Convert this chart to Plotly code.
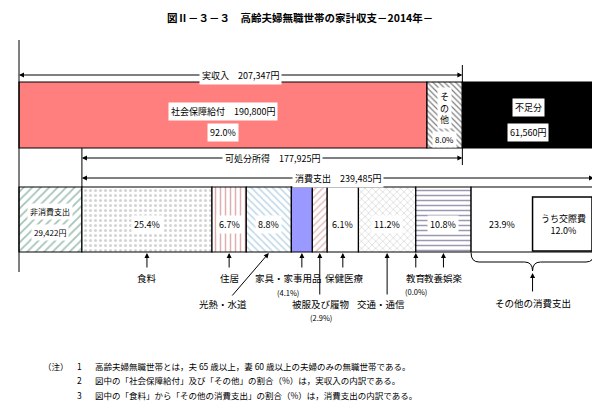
import plotly.graph_objects as go

# ---- data ----
income_labels = ["社会保障給付", "その他", "不足分"]
income_values = [190800, 16547, 61560]
income_total = 207347
disposable = 177925
nonconsumption = 29422
consumption_total = 239485
cons_labels = ["食料", "住居", "光熱・水道", "家具・家事用品", "被服及び履物", "保健医療",
               "交通・通信", "教育", "教養娯楽", "その他の消費支出"]
cons_pct = [25.4, 6.7, 8.8, 4.1, 2.9, 6.1, 11.2, 0.0, 10.8, 23.9]
kousai_pct = 12.0

FONT = "Noto Sans CJK JP"
W, H = 600, 410
OFF = 8  # page body margin
X0, X1 = 19, 594
TOT = income_values[0] + income_values[1] + income_values[2]
K = (X1 - X0) / TOT  # px per yen
def px(p):  # screen pixel -> data x
    return (p - X0) / K

fig = go.Figure()

def hbar(start, val, y0, y1, color="white", shape="", fg="black", size=6, name=""):
    fig.add_trace(go.Bar(orientation="h", base=[start], x=[val], y=[(y0 + y1) / 2], width=[y1 - y0],
                         marker=dict(color=color, line=dict(color="black", width=1.2),
                                     pattern=dict(shape=shape, fgcolor=fg, bgcolor=color, size=size, solidity=0.3)),
                         name=name, showlegend=False, hoverinfo="skip"))

# income bar
IY0, IY1 = 82, 148
s = 0
inc_styles = [("#ff7f7f", "", "black"), ("white", "\\", "black"), ("black", "", "black")]
inc_starts = []
for v, (c, sh, fg), n in zip(income_values, inc_styles, income_labels):
    inc_starts.append(s)
    hbar(s, v, IY0, IY1, c, sh, fg, 4, n)
    s += v

# expenditure bar
BY0, BY1 = 187, 252
hbar(0, nonconsumption, BY0, BY1, "white", "/", "#4a8a6a", 6, "非消費支出")
cons_styles = [("white", ".", "#aaaaaa"), ("white", "|", "#c06060"), ("white", "\\", "#80b0d0"),
               ("#9999ff", "", "black"), ("white", "/", "#d08080"), ("white", "", "black"),
               ("white", "x", "#bbbbbb"), ("white", "", "black"), ("white", "-", "#333366"),
               ("white", "", "black")]
cons_vals = [p * consumption_total / 100 for p in cons_pct]
cons_starts = []
s = nonconsumption
for v, (c, sh, fg), n in zip(cons_vals, cons_styles, cons_labels):
    cons_starts.append(s)
    if v > 0:
        hbar(s, v, BY0, BY1, c, sh, fg, 5, n)
    s += v
cons_centers = [a + v / 2 for a, v in zip(cons_starts, cons_vals)]

# うち交際費 box
kv = kousai_pct * consumption_total / 100
end = nonconsumption + consumption_total
shapes = []
shapes.append(dict(type="rect", x0=end - kv, x1=end - 2 / K, y0=197, y1=251,
                   line=dict(color="black", width=1.5), fillcolor="white", layer="above"))

ann = []
def txt(x, y, t, size=9, bg=None, bold=False, xanchor="center", color="black", font=FONT):
    ann.append(dict(x=x, y=y, text=("<b>%s</b>" % t) if bold else t, showarrow=False,
                    font=dict(family=font, size=size, color=color), xanchor=xanchor, yanchor="middle",
                    bgcolor=bg, borderpad=2))
def arrow(x, y, ax, ay):
    ann.append(dict(x=x, y=y, ax=ax, ay=ay, axref="x", ayref="y", text="", showarrow=True,
                    arrowhead=2, arrowsize=1, arrowwidth=1, arrowcolor="black"))
def line(x0, y0, x1, y1, w=1):
    shapes.append(dict(type="line", x0=x0, y0=y0, x1=x1, y1=y1, line=dict(color="black", width=w)))
def span(xa, xb, y, label):
    arrow(xa, y, (xa + xb) / 2, y)
    arrow(xb, y, (xa + xb) / 2, y)
    txt((xa + xb) / 2, y, label, 9, "white")

# vertical guide lines
line(0, 40, 0, 272)
line(income_total, 65, income_total, 165)
line(nonconsumption, 148, nonconsumption, 187)
line(end, 170, end, 187)

span(0, income_total, 75, "実収入　%s円" % f"{income_total:,}")
span(nonconsumption, income_total, 158, "可処分所得　%s円" % f"{disposable:,}")
span(nonconsumption, end, 178, "消費支出　%s円" % f"{consumption_total:,}")

# income texts
c0 = income_values[0] / 2
txt(c0, 111, "社会保障給付　%s円" % f"{income_values[0]:,}", 9, "white")
txt(c0, 132, "%.1f%%" % (income_values[0] / income_total * 100), 9, "white")
c1 = inc_starts[1] + income_values[1] / 2
txt(c1, 108, "そ<br>の<br>他", 9, "white")
txt(c1, 139, "%.1f%%" % (income_values[1] / income_total * 100), 8, "white")
c2 = inc_starts[2] + income_values[2] / 2
txt(c2, 107, "不足分", 9, "white")
txt(c2, 132, "%s円" % f"{income_values[2]:,}", 9, "white")

# expenditure texts
txt(nonconsumption / 2, 211, "非消費支出", 8, "white")
txt(nonconsumption / 2, 232, "%s円" % f"{nonconsumption:,}", 8, "white")
for i in [0, 1, 2, 5, 6, 8]:
    txt(cons_centers[i], 224, "%.1f%%" % cons_pct[i], 9, "white")
txt(cons_starts[9] + (cons_vals[9] - kv) / 2, 224, "%.1f%%" % cons_pct[9], 9, "white")
txt(end - kv / 2, 224, "うち交際費<br>%.1f%%" % kousai_pct, 9)

# labels under bar
R1, R2 = 278, 304
def lab(i, y, lx=None, ay=None):
    ax = cons_centers[i] if lx is None else lx
    arrow(cons_centers[i], 253, cons_centers[i], ay if ay else y - 9)
    txt(ax, y, cons_labels[i], 9.5)
lab(0, R1)
lab(1, R1)
arrow(cons_centers[2], 253, px(231), 297)
txt(px(223), R2, cons_labels[2], 9.5)
lab(3, R1, px(288))
txt(px(288), 292, "(%.1f%%)" % cons_pct[3], 7.5)
lab(4, R2, px(321), 296)
txt(px(321), 317, "(%.1f%%)" % cons_pct[4], 7.5)
lab(5, R1, px(344))
lab(6, R2, px(381), 296)
lab(7, R1)
txt(cons_centers[7], 291, "(%.1f%%)" % cons_pct[7], 7.5)
lab(8, R1)
# brace for その他
b0, b1 = cons_starts[9], end
bm = (b0 + b1) / 2
d = 8 / K
shapes.append(dict(type="path", line=dict(color="black", width=1),
                   path=f"M {b0},253 Q {b0},262 {b0+d},262 L {bm-d},262 Q {bm},262 {bm},271 "
                        f"Q {bm},262 {bm+d},262 L {b1-d},262 Q {b1},262 {b1},253"))
arrow(bm, 273, bm, 293)
txt(bm, 303, cons_labels[9], 9.5)

# title
txt(px(300), 17, "図Ⅱ－３－３　高齢夫婦無職世帯の家計収支－2014年－", 10.5, bold=True)
# notes
notes = ["高齢夫婦無職世帯とは，夫 65 歳以上，妻 60 歳以上の夫婦のみの無職世帯である。",
         "図中の「社会保障給付」及び「その他」の割合（%）は，実収入の内訳である。",
         "図中の「食料」から「その他の消費支出」の割合（%）は，消費支出の内訳である。"]
txt(px(40), 366, "（注）", 8.5, xanchor="left")
for k, (n, y) in enumerate(zip(notes, [366, 380, 395])):
    txt(px(74), y, str(k + 1), 8.5, xanchor="left")
    txt(px(92), y, n, 8.5, xanchor="left")

fig.update_layout(width=W - OFF, height=H - OFF, margin=dict(l=0, r=0, t=0, b=0), barmode="overlay",
                  plot_bgcolor="white", paper_bgcolor="white", shapes=shapes, annotations=ann,
                  xaxis=dict(range=[px(OFF), px(W)], visible=False, fixedrange=True),
                  yaxis=dict(range=[H, OFF], visible=False, fixedrange=True))
fig.write_html("out.html", config={"displayModeBar": False})
